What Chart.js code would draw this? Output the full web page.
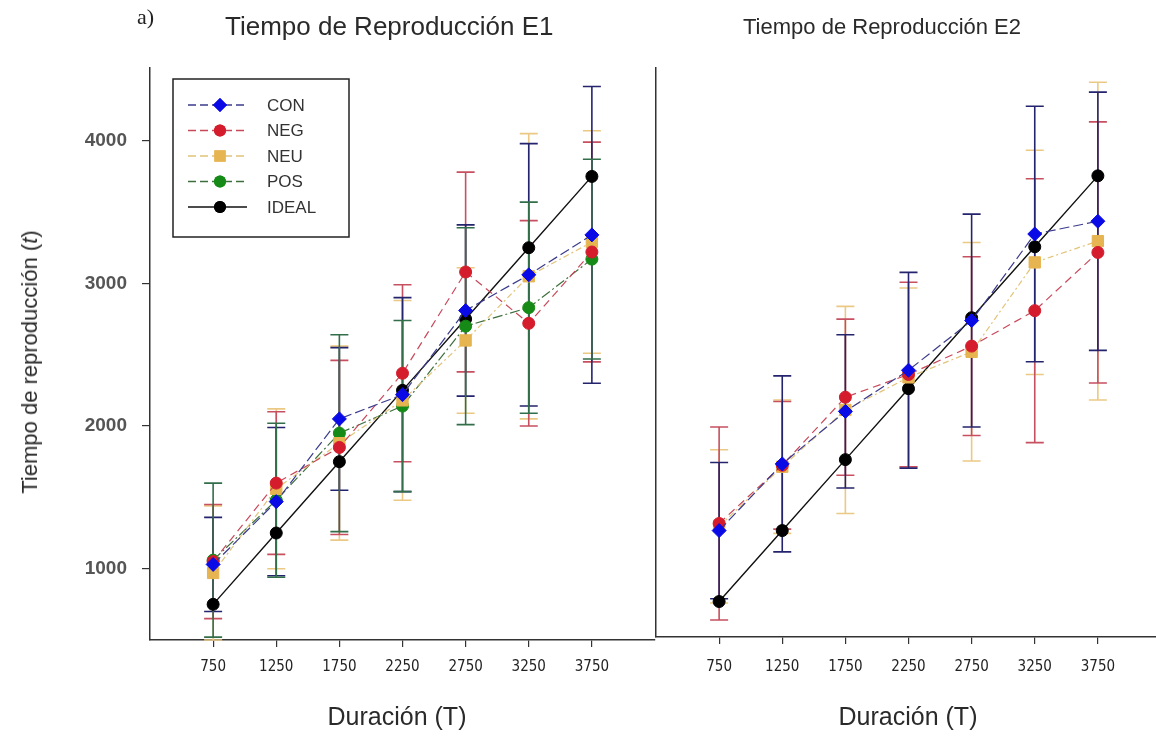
<!DOCTYPE html>
<html>
<head>
<meta charset="utf-8">
<script src="https://cdn.jsdelivr.net/npm/chart.js@4"></script>
<style>
  html, body { margin: 0; padding: 0; background: #fff; overflow: hidden; }
  #wrap { position: relative; width: 1156px; height: 737px; overflow: hidden; background: #fff; }
  canvas { position: absolute; }
  #c1 { left: 0; top: 0; }
  #c2 { left: 647px; top: -3px; }
  .txt { position: absolute; white-space: nowrap; color: #2a2a2a; font-family: "Liberation Sans", Arial, sans-serif; }
  #panel { left: 137px; top: 4px; font-family: "Liberation Serif", serif; font-size: 22px; color: #222; }
  #t1 { left: 225px; top: 11px; font-size: 26px; }
  #t2 { left: 743px; top: 14px; font-size: 22px; }
  #ylab { left: 30px; top: 362px; font-size: 22px; transform: translate(-50%, -50%) rotate(-90deg); }
  .xlab { top: 702px; font-size: 25px; transform: translateX(-50%); }
  #x1 { left: 397px; }
  #x2 { left: 908px; }
</style>
</head>
<body>
<div id="wrap">
  <canvas id="c1" width="664" height="737"></canvas>
  <canvas id="c2" width="523" height="737"></canvas>
  <div class="txt" id="panel">a)</div>
  <div class="txt" id="t1">Tiempo de Reproducción E1</div>
  <div class="txt" id="t2">Tiempo de Reproducción E2</div>
  <div class="txt" id="ylab">Tiempo de reproducción (<i>t</i>)</div>
  <div class="txt xlab" id="x1">Duración (T)</div>
  <div class="txt xlab" id="x2">Duración (T)</div>
</div>
<script>
// duraciones del estímulo (eje x) y marcas del eje y
const durations = [750, 1250, 1750, 2250, 2750, 3250, 3750];
const yTicks = [1000, 2000, 3000, 4000];

// E1: medias por condición
const con1 = [1030, 1470, 2050, 2220, 2810, 3060, 3340];
const neg1 = [1050, 1600, 1850, 2370, 3080, 2720, 3220];
const neu1 = [970, 1560, 1880, 2180, 2600, 3050, 3290];
const pos1 = [1060, 1480, 1950, 2140, 2700, 2830, 3170];
const ideal1 = [750, 1250, 1750, 2250, 2750, 3250, 3750];

// E1: desviaciones típicas
const conSd1 = [330, 520, 500, 680, 600, 920, 1040];
const negSd1 = [400, 500, 610, 620, 700, 720, 770];
const neuSd1 = [470, 560, 680, 700, 510, 1000, 780];
const posSd1 = [540, 540, 690, 600, 690, 740, 700];

// E2: medias por condición
const con2 = [1250, 1720, 2090, 2380, 2730, 3340, 3430];
const neg2 = [1300, 1710, 2190, 2350, 2550, 2800, 3210];
const neu2 = [1280, 1700, 2100, 2330, 2510, 3140, 3290];
const ideal2 = [750, 1250, 1750, 2250, 2750, 3250, 3750];

// E2: desviaciones típicas
const conSd2 = [480, 620, 540, 690, 750, 900, 910];
const negSd2 = [680, 450, 550, 650, 630, 930, 920];
const neuSd2 = [540, 470, 730, 630, 770, 790, 1120];

const styles = {
    CON:   { line: '#3b3b8c', point: '#0a0ae6', err: '#24246e', shape: 'rectRot', r: 7, dash: [10, 4] },
    NEG:   { line: '#c9485a', point: '#d41c2c', err: '#c65060', shape: 'circle', r: 6, dash: [8, 5] },
    NEU:   { line: '#e2c47a', point: '#e6b450', err: '#ebc984', shape: 'rect', r: 8, dash: [6, 3, 2, 3] },
    POS:   { line: '#3d6f3d', point: '#168a16', err: '#336e4a', shape: 'circle', r: 6, dash: [10, 3, 2, 3] },
    IDEAL: { line: '#111111', point: '#000000', err: null, shape: 'circle', r: 6, dash: [] }
};

function toPoints(vals) {
    return durations.map((d, i) => ({ x: d, y: vals[i] }));
}

function makeSet(name, vals, sd) {
    const s = styles[name];
    return {
        label: name,
        data: toPoints(vals),
        sd: sd,
        showLine: true,
        borderColor: s.line,
        borderWidth: name === 'IDEAL' ? 1.4 : 1.2,
        borderDash: s.dash,
        pointStyle: s.shape,
        pointRadius: s.r,
        pointBackgroundColor: s.point,
        pointBorderColor: s.point,
        pointBorderWidth: 1,
        errColor: s.err
    };
}

// barras de error (media ± DE) dibujadas con las escalas del gráfico
const errorBars = {
    id: 'errorBars',
    beforeDatasetsDraw(chart, args, opts) {
        const ctx = chart.ctx;
        const xs = chart.scales.x, ys = chart.scales.y;
        const order = opts.order || chart.data.datasets.map((d, i) => i);
        ctx.save();
        order.forEach(idx => {
            const ds = chart.data.datasets[idx];
            if (!ds || !ds.sd) return;
            ctx.strokeStyle = ds.errColor;
            ctx.lineWidth = 1.6;
            ctx.setLineDash([]);
            ds.data.forEach((p, i) => {
                const x = xs.getPixelForValue(p.x);
                const top = ys.getPixelForValue(p.y + ds.sd[i]);
                const bot = ys.getPixelForValue(p.y - ds.sd[i]);
                ctx.beginPath();
                ctx.moveTo(x, top); ctx.lineTo(x, bot);
                ctx.moveTo(x - 9, top); ctx.lineTo(x + 9, top);
                ctx.moveTo(x - 9, bot); ctx.lineTo(x + 9, bot);
                ctx.stroke();
            });
        });
        ctx.restore();
    }
};

// leyenda con recuadro y muestra de línea + marcador
const boxLegend = {
    id: 'boxLegend',
    afterDraw(chart, args, opts) {
        if (!opts.show) return;
        const ctx = chart.ctx;
        ctx.save();
        ctx.strokeStyle = '#222';
        ctx.lineWidth = 1.5;
        ctx.strokeRect(173, 79, 176, 158);
        chart.data.datasets.forEach((ds, i) => {
            const y = 105 + i * 25.5;
            ctx.strokeStyle = ds.borderColor;
            ctx.lineWidth = 1.6;
            ctx.setLineDash(ds.borderDash.length ? [8, 4] : []);
            ctx.beginPath();
            ctx.moveTo(188, y); ctx.lineTo(247, y);
            ctx.stroke();
            ctx.setLineDash([]);
            ctx.fillStyle = ds.pointBackgroundColor;
            Chart.helpers.drawPoint(ctx, { pointStyle: ds.pointStyle, radius: ds.pointRadius, borderWidth: 0 }, 220, y);
            ctx.fill();
            ctx.fillStyle = '#333';
            ctx.font = '17px "Liberation Sans", Arial, sans-serif';
            ctx.textBaseline = 'middle';
            ctx.fillText(ds.label, 267, y + 1);
        });
        ctx.restore();
    }
};

function scalesFor(showY) {
    return {
        x: {
            type: 'linear', min: 250, max: 4250,
            afterBuildTicks: s => { s.ticks = durations.map(v => ({ value: v })); },
            afterFit: s => { s.height = 97; },
            ticks: {
                autoSkip: false, maxRotation: 0, padding: showY ? 11 : 14, color: '#222',
                callback: v => String(v),
                font: { family: '"Liberation Sans Narrow", "DejaVu Sans Condensed", sans-serif', size: 15 }
            },
            grid: { drawOnChartArea: false, drawTicks: true, tickLength: 7, color: '#333', lineWidth: 1.2 },
            border: { display: true, color: '#333', width: 1.5 }
        },
        y: {
            type: 'linear', min: 500, max: 4510,
            afterBuildTicks: s => { s.ticks = yTicks.map(v => ({ value: v })); },
            afterFit: s => { s.width = showY ? 150 : 0; },
            ticks: {
                display: showY, padding: 15, color: '#555',
                callback: v => String(v),
                font: { family: '"Liberation Sans", Arial, sans-serif', size: 19, weight: 'bold' }
            },
            grid: { drawOnChartArea: false, drawTicks: showY, tickLength: 8, color: '#333', lineWidth: 1.2 },
            border: { display: true, color: '#333', width: 1.5 }
        }
    };
}

function baseOptions(showY, legend, errOrder) {
    return {
        responsive: false,
        animation: false,
        layout: { padding: showY ? { top: 68, right: 5, left: 0, bottom: 0 } : { top: 71, right: 0, left: 2, bottom: 0 } },
        plugins: {
            legend: { display: false },
            tooltip: { enabled: false },
            boxLegend: { show: legend },
            errorBars: { order: errOrder }
        },
        scales: scalesFor(showY)
    };
}

new Chart(document.getElementById('c1'), {
    type: 'scatter',
    data: {
        datasets: [
            makeSet('CON', con1, conSd1),
            makeSet('NEG', neg1, negSd1),
            makeSet('NEU', neu1, neuSd1),
            makeSet('POS', pos1, posSd1),
            makeSet('IDEAL', ideal1, null)
        ]
    },
    options: baseOptions(true, true, [2, 1, 0, 3]),
    plugins: [errorBars, boxLegend]
});

new Chart(document.getElementById('c2'), {
    type: 'scatter',
    data: {
        datasets: [
            makeSet('CON', con2, conSd2),
            makeSet('NEG', neg2, negSd2),
            makeSet('NEU', neu2, neuSd2),
            makeSet('IDEAL', ideal2, null)
        ]
    },
    options: baseOptions(false, false, [2, 1, 0]),
    plugins: [errorBars, boxLegend]
});
</script>
</body>
</html>
